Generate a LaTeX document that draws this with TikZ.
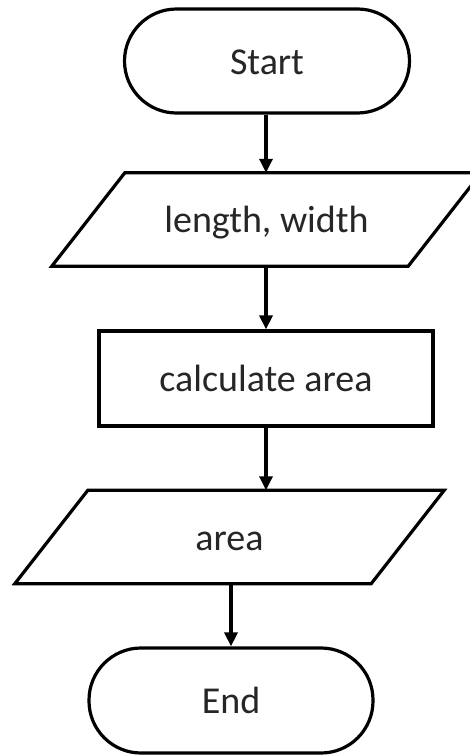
\documentclass[tikz,border=0pt]{standalone}
\usepackage{fontspec}
\setmainfont{Carlito}
\usetikzlibrary{arrows.meta}
\begin{document}
\begin{tikzpicture}[x=1pt,y=-1pt,
  every node/.style={font=\fontsize{38}{42}\selectfont, text=black!85, text height=30pt, text depth=4pt},
  term/.style={draw, line width=3.2pt, rounded corners=52pt, minimum width=285pt, minimum height=104pt, inner sep=0pt},
  procbox/.style={draw, line width=3.2pt, minimum width=334pt, minimum height=95pt, inner sep=0pt},
  iobox/.style={minimum width=356pt, minimum height=93pt, inner sep=0pt},
  iodraw/.style={line width=3.2pt, line join=miter},
  flow/.style={line width=3.2pt, -{Triangle[length=14pt,width=13pt]}}
]
\useasboundingbox (0,0) rectangle (469,755);
\fill[white] (0,0) rectangle (469,755);

\node[term] (start) at (267,61) {Start};
\node[iobox] (in) at (266.5,219.5) {length, width};
\node[procbox] (calc) at (266,378.5) {calculate area};
\node[iobox] (out) at (229.5,537) {area};
\node[term, minimum width=284pt, minimum height=105pt] (end) at (231,700.5) {End};

\draw[iodraw] ([xshift=36.5pt]in.north west) -- ([xshift=36.5pt]in.north east) -- ([xshift=-36.5pt]in.south east) -- ([xshift=-36.5pt]in.south west) -- cycle;
\draw[iodraw] ([xshift=36.5pt]out.north west) -- ([xshift=36.5pt]out.north east) -- ([xshift=-36.5pt]out.south east) -- ([xshift=-36.5pt]out.south west) -- cycle;

\draw[flow] (start.south -| calc.north) -- (calc.north |- in.north);
\draw[flow] (calc.north |- in.south) -- (calc.north);
\draw[flow] (calc.south) -- (calc.south |- out.north);
\draw[flow] (out.south -| end.north) -- (end.north);
\end{tikzpicture}
\end{document}
